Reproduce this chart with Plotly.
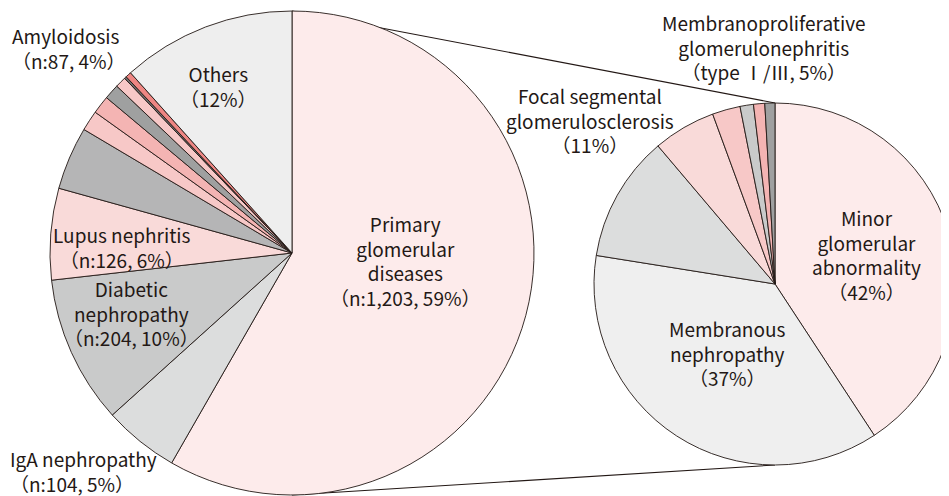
import plotly.graph_objects as go

W, H = 949, 496
OFF = 8  # page body margin offset of the plot div

# ---- data ----
left_labels = ["Primary glomerular diseases", "IgA nephropathy", "Diabetic nephropathy",
               "Lupus nephritis", "Amyloidosis", "Other 1", "Other 2", "Other 3",
               "Other 4", "Other 5", "Other 6", "Others"]
left_values = [1203, 104, 204, 126, 87, 28, 25, 21, 15, 3, 8, 240]
left_colors = ["#fdebeb", "#dcdddd", "#c9caca", "#f9dad9", "#b5b5b6", "#f7c8c7",
               "#f4b4b3", "#9fa0a0", "#f7c8c7", "#727171", "#ee8683", "#eeeeee"]

right_labels = ["Minor glomerular abnormality", "Membranous nephropathy",
                "Focal segmental glomerulosclerosis", "Membranoproliferative glomerulonephritis",
                "Sub 1", "Sub 2", "Sub 3", "Sub 4"]
right_values = [40.8, 36.8, 11.3, 5.6, 2.5, 1.2, 1.0, 0.9]
right_colors = ["#fdebeb", "#efefef", "#dcdddd", "#f9dad9", "#f7c8c7", "#c9caca",
                "#f4b4b3", "#9fa0a0"]

# ---- geometry (screen pixels) ----
L_cx, L_cy, L_r = 292, 253, 242
R_cx, R_cy, R_r = 775, 284, 181

def px(x, y):
    return (x - OFF) / W, 1 - (y - OFF) / H

def dom(cx, cy, r):
    x0, y1 = px(cx - r, cy - r)
    x1, y0 = px(cx + r, cy + r)
    return dict(x=[max(0, x0), min(1, x1)], y=[max(0, y0), min(1, y1)])

line = dict(color="#231815", width=0.9)
fig = go.Figure()
fig.add_trace(go.Pie(labels=left_labels, values=left_values, sort=False,
                     direction="clockwise", rotation=0, textinfo="none",
                     hoverinfo="label+value+percent",
                     marker=dict(colors=left_colors, line=line),
                     domain=dom(L_cx, L_cy, L_r), showlegend=False))
fig.add_trace(go.Pie(labels=right_labels, values=right_values, sort=False,
                     direction="clockwise", rotation=0, textinfo="none",
                     hoverinfo="label+percent",
                     marker=dict(colors=right_colors, line=line),
                     domain=dom(R_cx, R_cy, R_r), showlegend=False))

shapes = []
for sgn in (-1, 1):
    x0, y0 = px(L_cx, L_cy + sgn * L_r)
    x1, y1 = px(R_cx, R_cy + sgn * R_r)
    shapes.append(dict(type="line", xref="paper", yref="paper", x0=x0, y0=y0,
                       x1=x1, y1=y1, line=dict(color="#231815", width=1.1),
                       layer="below"))

FONT = "Noto Sans CJK JP"
ann_specs = [
    ("Others<br>（12%）", 218, 86, "center"),
    ("Amyloidosis<br>（n:87, 4%）", 10, 48, "left"),
    ("Primary<br>glomerular<br>diseases<br>（n:1,203, 59%）", 405, 260, "center"),
    ("Lupus nephritis<br>（n:126, 6%）", 122, 247, "center"),
    ("Diabetic<br>nephropathy<br>（n:204, 10%）", 131, 313, "center"),
    ("IgA nephropathy<br>（n:104, 5%）", 8, 471, "left"),
    ("Focal segmental<br>glomerulosclerosis<br>（11%）", 590, 120, "center"),
    ("Membranoproliferative<br>glomerulonephritis<br>（type Ⅰ/Ⅲ, 5%）", 764, 47, "center"),
    ("Minor<br>glomerular<br>abnormality<br>（42%）", 866, 254, "center"),
    ("Membranous<br>nephropathy<br>（37%）", 727, 353, "center"),
]
annotations = []
for text, x, y, anchor in ann_specs:
    ax, ay = px(x, y)
    annotations.append(dict(text=text, x=ax, y=ay, xref="paper", yref="paper",
                            xanchor=anchor, yanchor="middle", align=anchor,
                            showarrow=False,
                            font=dict(family=FONT, size=19, color="#231815")))

fig.update_layout(width=W, height=H, margin=dict(l=0, r=0, t=0, b=0),
                  paper_bgcolor="white", plot_bgcolor="white",
                  shapes=shapes, annotations=annotations)
fig.write_html("out.html")
